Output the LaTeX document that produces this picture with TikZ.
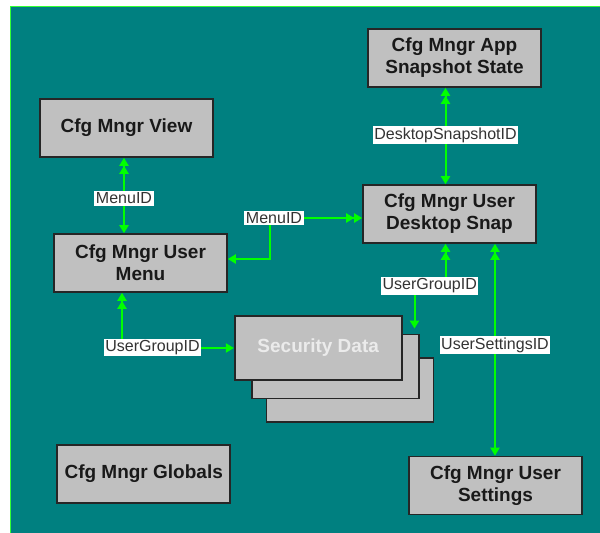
\documentclass[tikz,border=0pt]{standalone}
\usepackage{fontspec}
\setmainfont{Liberation Sans}
\usetikzlibrary{arrows.meta}
\definecolor{tealbg}{HTML}{008080}
\definecolor{boxgray}{HTML}{C0C0C0}
\definecolor{limeline}{HTML}{00FF00}
\definecolor{frameline}{HTML}{33FF33}
\tikzset{
  tip/.tip={Triangle[length=8pt,width=9pt]},
}
\begin{document}
\begin{tikzpicture}[x=1pt,y=-1pt,
  box/.style={draw=black!85, line width=1.6pt, fill=boxgray, minimum width=173pt, minimum height=58pt,
    font=\fontsize{19}{22}\selectfont\bfseries, align=center, inner sep=0pt, text=black!90},
  secbox/.style={draw=black!85, line width=1.6pt, fill=boxgray, minimum width=167pt, minimum height=64pt,
    font=\fontsize{19}{22}\selectfont\bfseries, inner sep=0pt, text=white!92!black},
  lbl/.style={fill=white, inner sep=1.5pt, font=\fontsize{16}{18}\selectfont, text=black!80},
  link/.style={draw=limeline, line width=2pt, {tip[]tip[]}-{tip[]}},
]
\useasboundingbox (0,0) rectangle (600,533);
\fill[white] (0,0) rectangle (600,533);
\filldraw[fill=tealbg, draw=frameline, line width=1.5pt] (10.5,6.5) rectangle (604,540);

% boxes
\node[box] (view) at (126.5,128) {Cfg Mngr View};
\node[box] (menu) at (140.5,263) {Cfg Mngr User\\Menu};
\node[box] (app) at (454.5,58) {Cfg Mngr App\\Snapshot State};
\node[box] (desk) at (449.5,214) {Cfg Mngr User\\Desktop Snap};
\node[secbox] (sec3) at (349.8,389.9) {};
\node[secbox] (sec2) at (335.6,366.4) {};
\node[secbox] (sec1) at (318.2,348) {Security Data};
\node[box] (glob) at (143.7,474) {Cfg Mngr Globals};
\node[box] (sett) at (495.5,485.5) {Cfg Mngr User\\Settings};

% helper coordinates
\coordinate (c1) at (124,0);
\coordinate (k1) at (270,218);
\coordinate (k2) at (270,259);
\coordinate (c3) at (445.5,0);
\coordinate (k4) at (445.5,286);
\coordinate (k5) at (414.5,286);
\coordinate (c5) at (122,0);
\coordinate (k6) at (122,348);
\coordinate (c6) at (495,0);

% connectors
\draw[link] (view.south -| c1) -- (menu.north -| c1) node[lbl,pos=0.54] {MenuID};
\draw[link] (desk.west |- k1) -- (k1) -- (k2) -- (menu.east |- k2);
\node[lbl] at (274,218) {MenuID};
\draw[link] (app.south -| c3) -- (desk.north -| c3) node[lbl,pos=0.49] {DesktopSnapshotID};
\draw[link, shorten >=5pt] (desk.south -| c3) -- (k4) -- (k5) -- (sec2.north -| k5);
\node[lbl] at (429.7,286) {UserGroupID};
\draw[link] (menu.south -| c5) -- (k6) -- (sec1.west |- k6);
\node[lbl] at (152.5,347.5) {UserGroupID};
\draw[link] (desk.south -| c6) -- (sett.north -| c6) node[lbl,pos=0.477] {UserSettingsID};
\end{tikzpicture}
\end{document}
